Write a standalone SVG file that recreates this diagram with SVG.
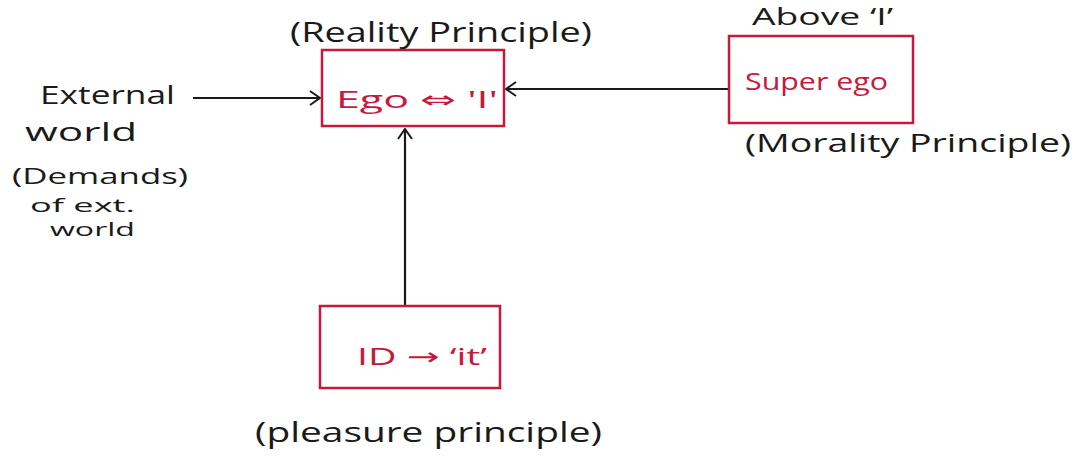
<svg xmlns="http://www.w3.org/2000/svg" width="1079" height="461" viewBox="0 0 1079 461">
<defs>
<marker id="ah" viewBox="0 0 12 16" refX="11" refY="8" markerWidth="12" markerHeight="16" markerUnits="userSpaceOnUse" orient="auto">
<path d="M1 1 L11 8 L1 15" fill="none" stroke="#1a1a1a" stroke-width="2"/>
</marker>
<style>
.box{fill:none;stroke:#c8193c;stroke-width:2.5}
.lbl{font-family:"Open Sans","DejaVu Sans",sans-serif;fill:#1a1a1a}
.red{font-family:"Open Sans","DejaVu Sans",sans-serif;fill:#c8193c}
.conn{stroke:#1a1a1a;stroke-width:2.2;fill:none;marker-end:url(#ah)}
</style>
</defs>
<rect width="1079" height="461" fill="#ffffff"/>
<g id="connectors">
<line class="conn" x1="193" y1="98" x2="320" y2="98"/>
<line class="conn" x1="729" y1="89" x2="506" y2="89"/>
<line class="conn" x1="405" y1="306" x2="405" y2="129"/>
</g>
<g id="ego">
<rect class="box" x="322" y="50" width="182" height="76"/>
<text class="red" x="336" y="108" font-size="24" textLength="162" lengthAdjust="spacingAndGlyphs">Ego ⇔ 'I'</text>
<text class="lbl" x="290" y="42" font-size="27" textLength="302" lengthAdjust="spacingAndGlyphs">(Reality Principle)</text>
</g>
<g id="superego">
<rect class="box" x="729" y="36" width="184" height="87"/>
<text class="red" x="745" y="90" font-size="24" textLength="143" lengthAdjust="spacingAndGlyphs">Super ego</text>
<text class="lbl" x="752" y="25" font-size="24" textLength="141" lengthAdjust="spacingAndGlyphs">Above ‘I’</text>
<text class="lbl" x="745" y="152" font-size="25" textLength="326" lengthAdjust="spacingAndGlyphs">(Morality Principle)</text>
</g>
<g id="id">
<rect class="box" x="320" y="306" width="180" height="82"/>
<text class="red" x="357" y="365" font-size="24" textLength="130" lengthAdjust="spacingAndGlyphs">ID → ‘it’</text>
<text class="lbl" x="255" y="442" font-size="28" textLength="347" lengthAdjust="spacingAndGlyphs">(pleasure principle)</text>
</g>
<g id="external">
<text class="lbl" x="40" y="104" font-size="26" textLength="135" lengthAdjust="spacingAndGlyphs">External</text>
<text class="lbl" x="25" y="141" font-size="26" textLength="112" lengthAdjust="spacingAndGlyphs">world</text>
<text class="lbl" x="12" y="184" font-size="22" textLength="176" lengthAdjust="spacingAndGlyphs">(Demands)</text>
<text class="lbl" x="30" y="212" font-size="19" textLength="105" lengthAdjust="spacingAndGlyphs">of ext.</text>
<text class="lbl" x="50" y="236" font-size="19" textLength="85" lengthAdjust="spacingAndGlyphs">world</text>
</g>
</svg>
